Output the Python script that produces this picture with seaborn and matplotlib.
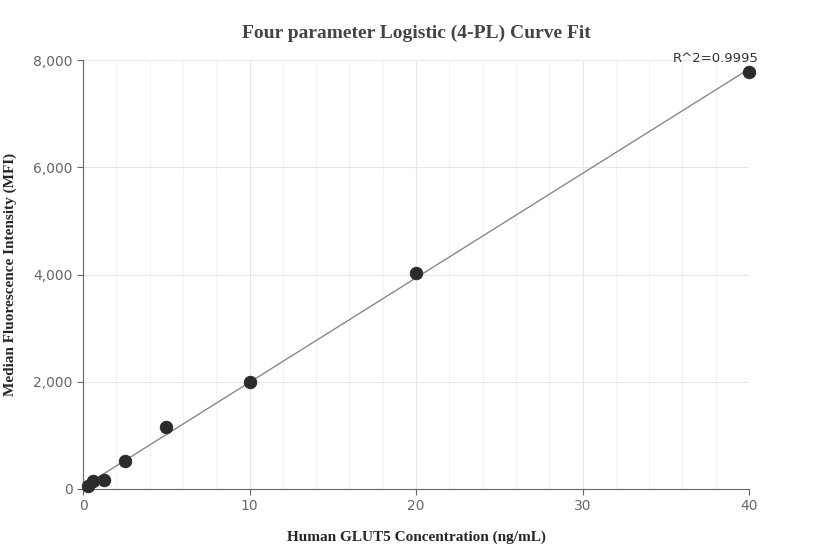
import numpy as np
import matplotlib
matplotlib.use("Agg")
import matplotlib.pyplot as plt
import seaborn as sns
from matplotlib.ticker import FuncFormatter, MultipleLocator

conc = [0.3125, 0.625, 1.25, 2.5, 5, 10, 20, 40]
mfi = [50, 150, 170, 520, 1160, 2000, 4030, 7770]

sns.set_style("white")
fig = plt.figure(figsize=(8.32, 5.6), dpi=100)
ax = fig.add_axes([83/832, 1-489/560, (749-83)/832, (489-60)/560])

coef = np.polyfit(conc, mfi, 1)
xs = np.linspace(0, 40, 200)
sns.lineplot(x=xs, y=np.polyval(coef, xs), ax=ax, color="#888888", lw=1)
sns.scatterplot(x=conc, y=mfi, ax=ax, color="#2b2b2b", s=80, edgecolor="#2b2b2b", zorder=3, clip_on=False)

ax.set_xlim(0, 40)
ax.set_ylim(0, 8000)
ax.xaxis.set_major_locator(MultipleLocator(10))
ax.xaxis.set_minor_locator(MultipleLocator(2))
ax.yaxis.set_major_locator(MultipleLocator(2000))
ax.yaxis.set_major_formatter(FuncFormatter(lambda v, p: f"{int(v):,}"))
ax.grid(True, which="major", color="#e6e6e6", lw=0.8)
ax.grid(True, which="minor", axis="x", color="#f2f2f2", lw=0.8)
ax.set_axisbelow(True)
for s in ["top", "right"]:
    ax.spines[s].set_visible(False)
for s in ["left", "bottom"]:
    ax.spines[s].set_color("#666666")
ax.tick_params(axis="both", which="major", length=4, color="#666666", labelcolor="#666666", labelsize=10, left=True, bottom=True)
ax.tick_params(which="minor", length=0)

serif = "Liberation Serif"
ax.set_xlabel("Human GLUT5 Concentration (ng/mL)", fontfamily=serif, fontweight="bold", fontsize=11, labelpad=12)
ax.set_ylabel("")
fig.text(10/832, 1-274/560, "Median Fluorescence Intensity (MFI)", rotation=90, ha="center", va="center",
         fontfamily=serif, fontweight="bold", fontsize=11)
fig.text(416/832, 1-33/560, "Four parameter Logistic (4-PL) Curve Fit", ha="center", va="center",
         fontfamily=serif, fontweight="bold", fontsize=14, color="#444444")
ax.text(40.6, 7900, "R^2=0.9995", ha="right", va="bottom", fontsize=9.5, color="#333333")
fig.savefig("out.png", dpi=100)
